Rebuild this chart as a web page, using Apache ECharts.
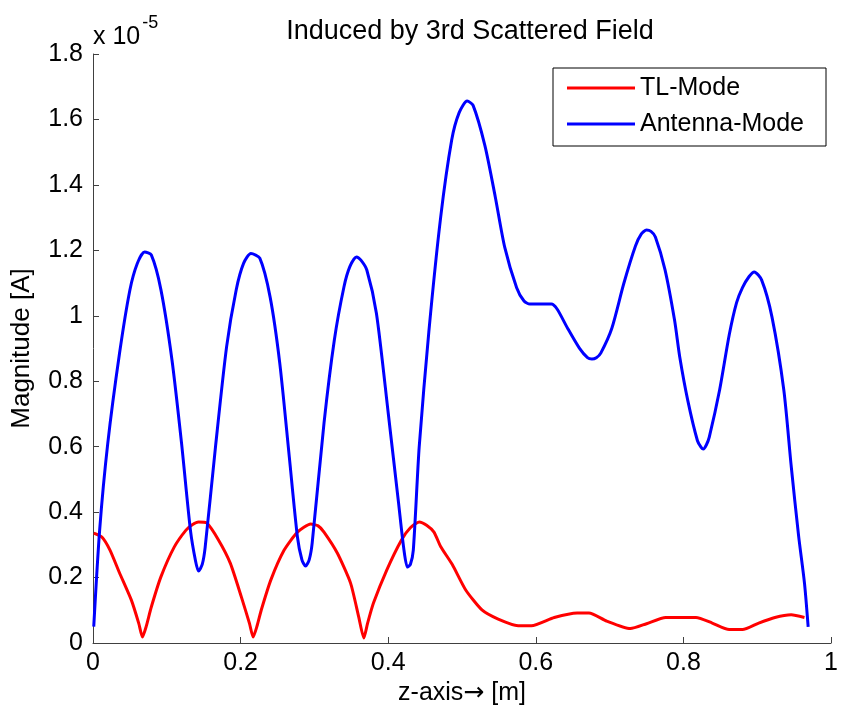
<!DOCTYPE html>
<html>
<head>
<meta charset="utf-8">
<script src="https://cdn.jsdelivr.net/npm/echarts@6/dist/echarts.min.js"></script>
<style>
  html, body { margin: 0; padding: 0; background: #fff; }
  #chart { width: 841px; height: 713px; }
</style>
</head>
<body>
<div id="chart"></div>
<script>
// z position [m] and magnitude (x 1e-5 A)
const tlZ = [0.001, 0.012, 0.023, 0.036, 0.052, 0.062, 0.067, 0.072, 0.079, 0.092, 0.110, 0.126, 0.135, 0.143, 0.154,
  0.170, 0.186, 0.201, 0.212, 0.217, 0.222, 0.228, 0.241, 0.259, 0.277, 0.295, 0.305, 0.313, 0.331, 0.349, 0.360,
  0.367, 0.372, 0.380, 0.398, 0.418, 0.430, 0.442, 0.452, 0.462, 0.471, 0.487, 0.505, 0.527, 0.549, 0.576, 0.594,
  0.625, 0.656, 0.672, 0.696, 0.728, 0.750, 0.776, 0.817, 0.839, 0.862, 0.880, 0.902, 0.924, 0.946, 0.964]
const tlMag = [0.336, 0.324, 0.284, 0.214, 0.131, 0.06, 0.018, 0.05, 0.110, 0.202, 0.293, 0.345, 0.362, 0.370, 0.367,
  0.315, 0.244, 0.141, 0.06, 0.018, 0.05, 0.101, 0.193, 0.284, 0.339, 0.364, 0.358, 0.339, 0.275, 0.183, 0.08,
  0.015, 0.06, 0.122, 0.223, 0.315, 0.352, 0.370, 0.36, 0.339, 0.295, 0.239, 0.162, 0.101, 0.073, 0.053, 0.053,
  0.078, 0.092, 0.092, 0.067, 0.044, 0.059, 0.078, 0.078, 0.061, 0.041, 0.041, 0.061, 0.078, 0.086, 0.078]

const antZ = [0.001, 0.009, 0.020, 0.036, 0.050, 0.060, 0.070, 0.079, 0.092, 0.107, 0.120, 0.132, 0.139, 0.143, 0.148,
  0.152, 0.166, 0.181, 0.194, 0.204, 0.214, 0.226, 0.240, 0.253, 0.266, 0.277, 0.283, 0.288, 0.293, 0.297, 0.313,
  0.327, 0.340, 0.348, 0.357, 0.363, 0.371, 0.384, 0.400, 0.414, 0.421, 0.426, 0.430, 0.434, 0.442, 0.455, 0.471,
  0.486, 0.496, 0.507, 0.515, 0.531, 0.545, 0.558, 0.574, 0.584, 0.592, 0.621, 0.629, 0.643, 0.659, 0.670, 0.676,
  0.682, 0.688, 0.703, 0.719, 0.735, 0.743, 0.750, 0.756, 0.762, 0.775, 0.788, 0.795, 0.806, 0.819, 0.824, 0.827,
  0.831, 0.835, 0.849, 0.862, 0.872, 0.880, 0.889, 0.896, 0.906, 0.920, 0.936, 0.946, 0.956, 0.964, 0.969]
const antMag = [0.05, 0.345, 0.61, 0.886, 1.079, 1.16, 1.195, 1.186, 1.08, 0.865, 0.61, 0.345, 0.25, 0.22, 0.24,
  0.293, 0.6, 0.905, 1.079, 1.16, 1.19, 1.176, 1.057, 0.856, 0.568, 0.324, 0.255, 0.235, 0.255, 0.306, 0.672,
  0.926, 1.088, 1.15, 1.18, 1.17, 1.14, 1.008, 0.703, 0.428, 0.29, 0.232, 0.24, 0.284, 0.6, 0.95, 1.30,
  1.537, 1.62, 1.656, 1.643, 1.52, 1.364, 1.208, 1.086, 1.045, 1.036, 1.036, 1.02, 0.962, 0.901, 0.872, 0.868,
  0.872, 0.886, 0.962, 1.097, 1.213, 1.25, 1.262, 1.258, 1.241, 1.141, 0.986, 0.874, 0.740, 0.618, 0.598, 0.593,
  0.605, 0.629, 0.773, 0.941, 1.04, 1.086, 1.12, 1.134, 1.109, 0.996, 0.773, 0.541, 0.328, 0.183, 0.049]

const zip = (xs, ys) => xs.map((x, i) => [x, ys[i]])

const FONT = "'Liberation Sans', Arial, Helvetica, sans-serif"
const chart = echarts.init(document.getElementById("chart"))

const option = {
  backgroundColor: "#fff",
  animation: false,
  textStyle: { fontFamily: FONT, color: "#000" },
  title: {
    text: "Induced by 3rd Scattered Field",
    left: 465,
    textAlign: "center",
    top: 13,
    textStyle: { fontFamily: FONT, fontSize: 27, fontWeight: "normal", color: "#000" },
  },
  grid: { left: 93, right: 1, top: 54, bottom: 70 },
  legend: {
    orient: "vertical",
    left: 553,
    top: 68,
    padding: [7, 22, 9, 14],
    itemGap: 10,
    itemWidth: 68,
    itemHeight: 3,
    icon: "rect",
    backgroundColor: "#fff",
    borderColor: "#000",
    borderWidth: 1,
    textStyle: { fontFamily: FONT, fontSize: 25, color: "#000", lineHeight: 26 },
    data: ["TL-Mode", "Antenna-Mode"],
  },
  xAxis: {
    type: "value",
    min: 0,
    max: 1,
    interval: 0.2,
    name: "z-axis{arr|\u2192} [m]",
    nameLocation: "middle",
    nameGap: 34,
    nameTextStyle: {
      fontFamily: FONT,
      fontSize: 25,
      color: "#000",
      rich: { arr: { fontFamily: "'DejaVu Sans'", fontSize: 25, color: "#000" } },
    },
    axisLine: { lineStyle: { color: "#404040", width: 1 } },
    axisTick: { inside: true, length: 6, lineStyle: { color: "#404040" } },
    axisLabel: { fontFamily: FONT, fontSize: 25, color: "#000", margin: 8 },
    splitLine: { show: false },
  },
  yAxis: {
    type: "value",
    min: 0,
    max: 1.8,
    interval: 0.2,
    name: "Magnitude [A]",
    nameLocation: "middle",
    nameGap: 58,
    nameRotate: 90,
    nameTextStyle: { fontFamily: FONT, fontSize: 26, color: "#000" },
    axisLine: { show: true, lineStyle: { color: "#404040", width: 1 } },
    axisTick: { show: true, inside: true, length: 6, lineStyle: { color: "#404040" } },
    axisLabel: { fontFamily: FONT, fontSize: 25, color: "#000", margin: 10 },
    splitLine: { show: false },
  },
  graphic: [
    {
      type: "text",
      left: 93,
      top: 14,
      style: {
        text: "{a|x 10}{b|-5}",
        rich: {
          a: { fontFamily: FONT, fontSize: 25, color: "#000", verticalAlign: "bottom", height: 32 },
          b: { fontFamily: FONT, fontSize: 18, color: "#000", verticalAlign: "top", height: 32, padding: [0, 0, 14, 2] },
        },
      },
    },
  ],
  series: [
    {
      name: "TL-Mode",
      type: "line",
      data: zip(tlZ, tlMag),
      symbol: "none",
      smooth: 0.2,
      lineStyle: { color: "#ff0000", width: 3 },
      itemStyle: { color: "#ff0000" },
    },
    {
      name: "Antenna-Mode",
      type: "line",
      data: zip(antZ, antMag),
      symbol: "none",
      smooth: 0.25,
      lineStyle: { color: "#0000ff", width: 3 },
      itemStyle: { color: "#0000ff" },
    },
  ],
}

chart.setOption(option)
</script>
</body>
</html>
